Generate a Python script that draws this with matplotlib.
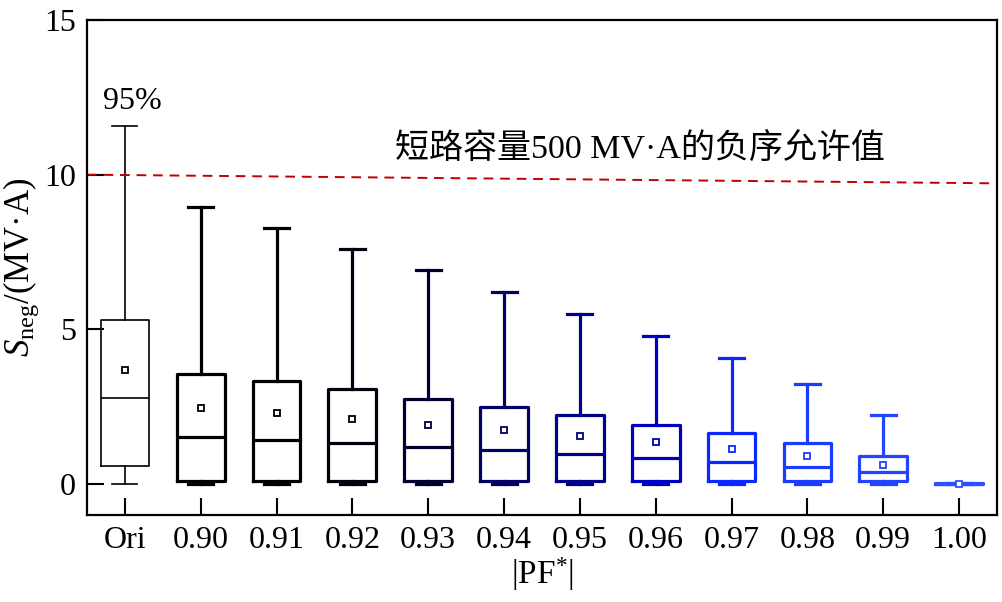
import matplotlib
matplotlib.use("Agg")
import matplotlib.pyplot as plt

plt.rcParams['font.family'] = ['Liberation Serif', 'Noto Sans CJK SC']
plt.rcParams['mathtext.fontset'] = 'custom'
plt.rcParams['mathtext.rm'] = 'Liberation Serif'
plt.rcParams['mathtext.it'] = 'Liberation Serif:italic'

# 数据
labels = ['Ori', '0.90', '0.91', '0.92', '0.93', '0.94', '0.95', '0.96',
          '0.97', '0.98', '0.99', '1.00']
whis_hi = [11.56, 8.94, 8.27, 7.59, 6.91, 6.20, 5.49, 4.78, 4.07, 3.23, 2.23, 0.02]
q3 = [5.30, 3.55, 3.33, 3.07, 2.74, 2.49, 2.23, 1.90, 1.65, 1.32, 0.90, 0.02]
med = [2.78, 1.52, 1.42, 1.32, 1.19, 1.10, 0.97, 0.84, 0.71, 0.55, 0.39, 0.01]
q1 = [0.58, 0.10, 0.10, 0.10, 0.10, 0.10, 0.10, 0.10, 0.10, 0.10, 0.10, 0.0]
whis_lo = [0.0] * 12
means = [3.68, 2.45, 2.29, 2.10, 1.90, 1.74, 1.55, 1.36, 1.13, 0.90, 0.61, 0.01]
colors = ['#000000', '#000000', '#000000', '#00000e', '#000033', '#000066',
          '#000088', '#0000c0', '#0a28ff', '#1a3cff', '#2244ff', '#2a50ff']

limit_start, limit_end = 10.0, 9.72

fig = plt.figure(figsize=(10.03, 6.02), dpi=100)
ax = fig.add_axes([0.0867, 0.1445, 0.9073, 0.8223])

for i in range(len(labels)):
    st = dict(label=labels[i], whislo=whis_lo[i], q1=q1[i], med=med[i],
              q3=q3[i], whishi=whis_hi[i], mean=means[i], fliers=[])
    c = colors[i]
    lw = 1.2 if i == 0 else 2.3
    ax.bxp([st], positions=[i + 1], widths=0.63, showmeans=True,
           showfliers=False, manage_ticks=False,
           boxprops=dict(color=c, linewidth=lw),
           medianprops=dict(color=c, linewidth=lw),
           whiskerprops=dict(color=c, linewidth=lw),
           capprops=dict(color=c, linewidth=lw),
           capwidths=0.33,
           meanprops=dict(marker='s', markerfacecolor='white',
                          markeredgecolor=c, markersize=5,
                          markeredgewidth=1.3))

ax.plot([0.5, 12.5], [limit_start, limit_end], color='#c00000',
        linestyle=(0, (5, 3.5)), linewidth=1.4)

ax.text(4.56, 10.8, '短路容量500 MV·A的负序允许值', fontsize=24.5,
        ha='left', va='center')
ax.text(1.1, 12.35, '95%', fontsize=23, ha='center', va='center')

ax.set_xlim(0.5, 12.5)
ax.set_ylim(-1, 15)
ax.set_xticks(range(1, 13))
ax.set_xticklabels(labels)
ax.set_yticks([0, 5, 10, 15])
ax.tick_params(direction='in', length=12, width=1.5, labelsize=23, pad=8)
for s in ax.spines.values():
    s.set_linewidth(1.6)

ax.set_xlabel(r'|PF$^{*}$|', fontsize=24, labelpad=0)
ax.set_ylabel(r'$S_{\mathrm{neg}}$/(MV·A)', fontsize=25, labelpad=2)

fig.savefig('out.png', dpi=100)
